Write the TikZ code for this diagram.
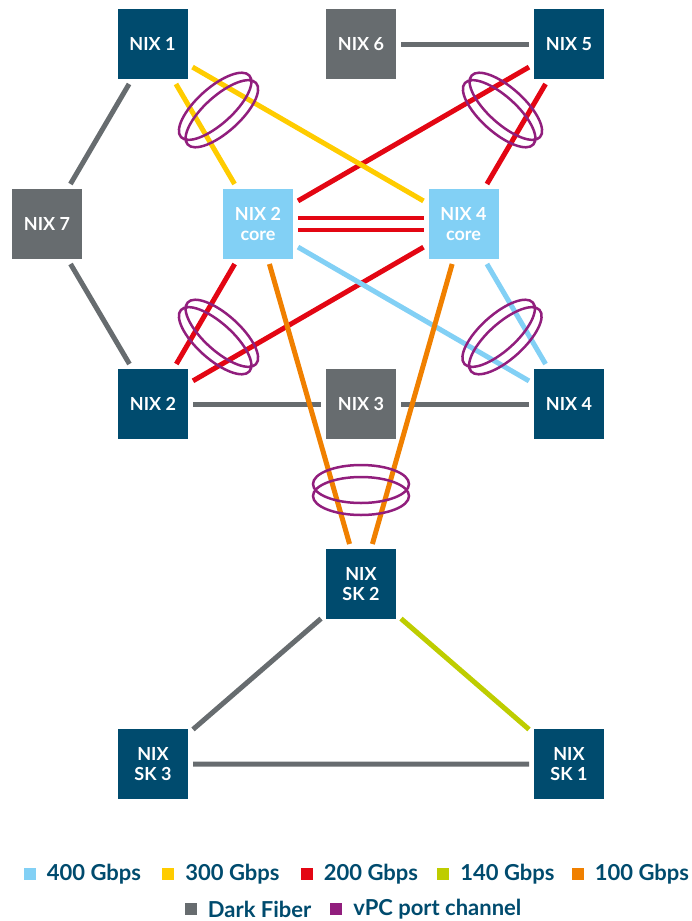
\documentclass[tikz,border=0pt]{standalone}
\usepackage{fontspec}
\setmainfont{Lato}
\usepackage{tikz}
\usetikzlibrary{positioning}
\definecolor{nixnavy}{RGB}{0, 75, 110}
\definecolor{nixgray}{RGB}{103, 108, 111}
\definecolor{nixsky}{RGB}{130, 208, 245}
\definecolor{nixyellow}{RGB}{255, 204, 0}
\definecolor{nixred}{RGB}{227, 6, 19}
\definecolor{nixlime}{RGB}{190, 205, 0}
\definecolor{nixorange}{RGB}{240, 128, 0}
\definecolor{nixpurple}{RGB}{145, 30, 125}
\tikzset{
  nixbox/.style={draw=white, line width=5pt, minimum size=75pt, inner sep=0pt, fill=nixnavy,
                 text=white, align=center, font=\fontsize{18}{20}\selectfont\bfseries},
  graybox/.style={nixbox, fill=nixgray},
  corebox/.style={nixbox, fill=nixsky},
  link/.style={line width=5pt},
  vpc/.style={draw=nixpurple, line width=2.5pt},
  key/.style={minimum size=12pt, inner sep=0pt},
  keytext/.style={inner sep=0pt, text=nixnavy, font=\fontsize{22}{24}\selectfont\bfseries}
}
\begin{document}
\begin{tikzpicture}[x=1pt, y=1pt]
            \useasboundingbox (0,0) rectangle (691,-921);
            % switches
            \node[nixbox]  (n1)  at (152.5, -44) {NIX 1};
            \node[graybox] (n6)  at (361.0, -44) {NIX 6};
            \node[nixbox]  (n5)  at (569.0, -44) {NIX 5};
            \node[graybox] (n7)  at ( 47.0,-224) {NIX 7};
            \node[corebox] (c2)  at (258.0,-224) {NIX 2\\core};
            \node[corebox] (c4)  at (463.5,-224) {NIX 4\\core};
            \node[nixbox]  (n2)  at (153.0,-404) {NIX 2};
            \node[graybox] (n3)  at (361.0,-404) {NIX 3};
            \node[nixbox]  (n4)  at (569.0,-404) {NIX 4};
            \node[nixbox]  (sk2) at (361.0,-584) {NIX\\SK 2};
            \node[nixbox]  (sk3) at (153.0,-764) {NIX\\SK 3};
            \node[nixbox]  (sk1) at (569.0,-764) {NIX\\SK 1};
            % dark fiber
            \draw[link, nixgray]   (n1) -- (n7) -- (n2);
            \draw[link, nixgray]   (n6) -- (n5);
            \draw[link, nixgray]   (n2) -- (n3) -- (n4);
            \draw[link, nixgray]   (sk2) -- (sk3) -- (sk1);
            % 200 Gbps
            \draw[link, nixred]    (c2) -- (n5);
            \draw[link, nixred]    (c4) -- (n5);
            \draw[link, nixred]    (n2) -- (c2);
            \draw[link, nixred]    (n2) -- (c4);
            \draw[nixred, line width=4pt] ([yshift= 6pt]c2.east) -- ([yshift= 6pt]c4.west);
            \draw[nixred, line width=4pt] ([yshift=-6pt]c2.east) -- ([yshift=-6pt]c4.west);
            % 400 Gbps
            \draw[link, nixsky]    (c2) -- (n4);
            \draw[link, nixsky]    (c4) -- (n4);
            % 300 Gbps
            \draw[link, nixyellow] (n1) -- (c2);
            \draw[link, nixyellow] (n1) -- (c4);
            % 100 Gbps
            \draw[link, nixorange] (c2) -- (sk2);
            \draw[link, nixorange] (c4) -- (sk2);
            % 140 Gbps
            \draw[link, nixlime]   (sk2) -- (sk1);
            % vPC port channels
            \draw[vpc, shift={(218.5,-110)}, rotate= 42] (0, 5) ellipse (46pt and 18pt) (0,-5) ellipse (46pt and 18pt);
            \draw[vpc, shift={(502.5,-110)}, rotate=-42] (0, 5) ellipse (46pt and 18pt) (0,-5) ellipse (46pt and 18pt);
            \draw[vpc, shift={(218.5,-337)}, rotate=-42] (0, 5) ellipse (46pt and 18pt) (0,-5) ellipse (46pt and 18pt);
            \draw[vpc, shift={(502.0,-337)}, rotate= 42] (0, 5) ellipse (46pt and 18pt) (0,-5) ellipse (46pt and 18pt);
            \draw[vpc, shift={(361.0,-490)}]             (0, 6) ellipse (48pt and 19pt) (0,-6) ellipse (48pt and 19pt);
            % legend
            \node[key, fill=nixsky]    (k400) at ( 29.5,-874) {};
            \node[keytext, right=11pt of k400] (t400) {400 Gbps};
            \node[key, fill=nixyellow] (k300) at (168.0,-874) {};
            \node[keytext, right=11pt of k300] (t300) {300 Gbps};
            \node[key, fill=nixred]    (k200) at (306.5,-874) {};
            \node[keytext, right=11pt of k200] (t200) {200 Gbps};
            \node[key, fill=nixlime]   (k140) at (443.0,-874) {};
            \node[keytext, right=11pt of k140] (t140) {140 Gbps};
            \node[key, fill=nixorange] (k100) at (577.5,-874) {};
            \node[keytext, right=11pt of k100] (t100) {100 Gbps};
            \node[key, fill=nixgray]   (kdf)  at (190.5,-909) {};
            \node[keytext, right=11pt of kdf]  (tdf)  {Dark Fiber};
            \node[key, fill=nixpurple] (kvpc) at (336.0,-909) {};
            \node[keytext, right=11pt of kvpc] (tvpc) {vPC port channel};
        \end{tikzpicture}
\end{document}
